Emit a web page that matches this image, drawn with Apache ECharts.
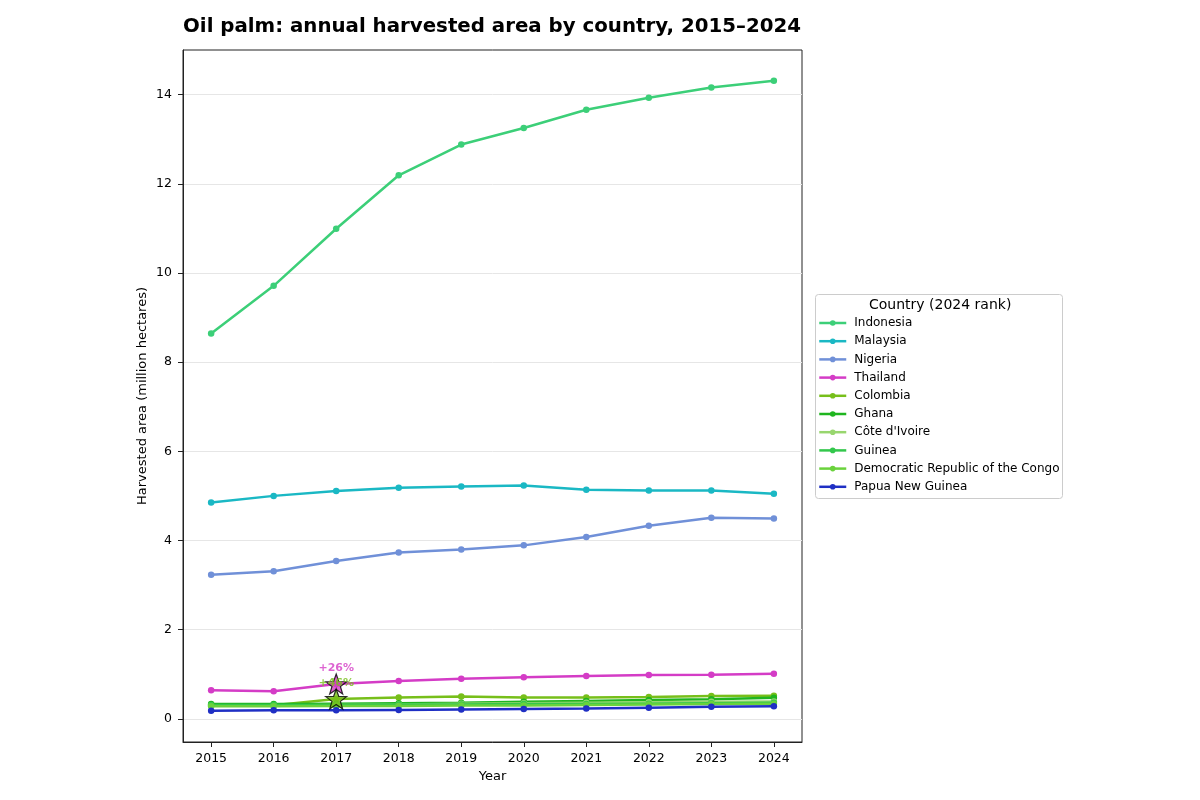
<!DOCTYPE html>
<html>
<head>
<meta charset="utf-8">
<script src="https://cdn.jsdelivr.net/npm/echarts@6/dist/echarts.min.js"></script>
<style>html,body{margin:0;padding:0;background:#fff}#chart{width:1200px;height:800px}</style>
</head>
<body>
<div id="chart"></div>
<script>
const years = [2015, 2016, 2017, 2018, 2019, 2020, 2021, 2022, 2023, 2024];
const countries = ['Indonesia', 'Malaysia', 'Nigeria', 'Thailand', 'Colombia', 'Ghana', "Côte d'Ivoire", 'Guinea', 'Democratic Republic of the Congo', 'Papua New Guinea'];
const colors = ['#3ccf78', '#1ab8c4', '#7090d8', '#d43cc6', '#77bf1a', '#1fb51f', '#98d66e', '#33c74c', '#6ad23c', '#1f2fc4'];
const indonesia = [8.64, 9.71, 10.99, 12.19, 12.88, 13.25, 13.66, 13.93, 14.16, 14.31];
const malaysia = [4.85, 5.00, 5.11, 5.18, 5.21, 5.23, 5.14, 5.12, 5.12, 5.05];
const nigeria = [3.23, 3.31, 3.54, 3.73, 3.80, 3.89, 4.08, 4.33, 4.51, 4.49];
const thailand = [0.64, 0.62, 0.78, 0.85, 0.90, 0.93, 0.96, 0.98, 0.99, 1.01];
const colombia = [0.31, 0.305, 0.445, 0.48, 0.50, 0.48, 0.48, 0.49, 0.51, 0.52];
const ghana = [0.33, 0.33, 0.34, 0.35, 0.36, 0.38, 0.40, 0.42, 0.44, 0.47];
const coteDIvoire = [0.30, 0.30, 0.31, 0.32, 0.34, 0.35, 0.36, 0.37, 0.38, 0.39];
const guinea = [0.31, 0.31, 0.31, 0.32, 0.32, 0.33, 0.33, 0.34, 0.35, 0.36];
const drc = [0.28, 0.28, 0.29, 0.29, 0.30, 0.30, 0.31, 0.32, 0.33, 0.34];
const png = [0.18, 0.19, 0.19, 0.20, 0.21, 0.22, 0.23, 0.25, 0.27, 0.28];
const seriesValues = [indonesia, malaysia, nigeria, thailand, colombia, ghana, coteDIvoire, guinea, drc, png];
const yTicks = [0, 2, 4, 6, 8, 10, 12, 14];
const highlights = [
  { country: 'Thailand', year: 2017, label: '+26%' },
  { country: 'Colombia', year: 2017, label: '+46%' }
];

const STAR = 'path://M0,-10 L2.35,-3.24 L9.51,-3.09 L3.80,1.24 L5.88,8.09 L0,4 L-5.88,8.09 L-3.80,1.24 L-9.51,-3.09 L-2.35,-3.24 Z';
const FONT = 'DejaVu Sans';

const series = countries.map((name, i) => ({
  name: name,
  type: 'line',
  data: years.map((y, j) => [y, seriesValues[i][j]]),
  symbol: 'circle',
  symbolSize: 6.5,
  lineStyle: { width: 2.5, color: colors[i] },
  itemStyle: { color: colors[i] },
  emphasis: { disabled: true },
  z: 2
}));

highlights.forEach(h => {
  const i = countries.indexOf(h.country);
  const j = years.indexOf(h.year);
  series.push({
    type: 'scatter',
    name: h.country + ' highlight',
    data: [[h.year, seriesValues[i][j]]],
    symbol: STAR,
    symbolSize: [21, 20],
    itemStyle: { color: colors[i], borderColor: '#000', borderWidth: 1.2 },
    label: {
      show: true, position: 'top', distance: 0,
      formatter: h.label, color: colors[i],
      fontFamily: FONT, fontWeight: 'bold', fontSize: 11
    },
    emphasis: { disabled: true },
    z: 5
  });
});

const chart = echarts.init(document.getElementById('chart'), null, { renderer: 'canvas' });
chart.setOption({
  animation: false,
  backgroundColor: '#fff',
  textStyle: { fontFamily: FONT },
  title: {
    text: 'Oil palm: annual harvested area by country, 2015–2024',
    left: 487, top: 12, textAlign: 'center',
    textStyle: { fontFamily: FONT, fontWeight: 'bold', fontSize: 19.8, color: '#000' }
  },
  grid: {
    left: 183, right: 398, top: 50, bottom: 58,
    show: true, borderColor: '#222', borderWidth: 1, backgroundColor: 'transparent'
  },
  xAxis: {
    type: 'value', min: 2014.55, max: 2024.45,
    name: 'Year', nameLocation: 'middle', nameGap: 28, nameMoveOverlap: false,
    nameTextStyle: { fontFamily: FONT, fontSize: 13, color: '#000' },
    axisLine: { show: true, onZero: false, lineStyle: { color: '#222' } },
    axisTick: { show: true, length: 5, lineStyle: { color: '#222' }, customValues: years },
    axisLabel: { fontFamily: FONT, fontSize: 12.5, color: '#000', margin: 10, customValues: years, formatter: v => String(v) },
    splitLine: { show: false }
  },
  yAxis: {
    type: 'value', min: -0.52, max: 15.0,
    name: 'Harvested area (million hectares)', nameLocation: 'middle', nameGap: 34, nameMoveOverlap: false,
    nameTextStyle: { fontFamily: FONT, fontSize: 13, color: '#000' },
    axisLine: { show: true, onZero: false, lineStyle: { color: '#222' } },
    axisTick: { show: true, length: 5, lineStyle: { color: '#222' }, customValues: yTicks },
    axisLabel: { fontFamily: FONT, fontSize: 12.5, color: '#000', margin: 11, customValues: yTicks },
    splitLine: { show: true, lineStyle: { color: '#e6e6e6', width: 1 } }
  },
  legend: {
    data: countries,
    orient: 'vertical',
    left: 818, top: 317,
    padding: 0,
    itemWidth: 27, itemHeight: 7, itemGap: 6.2,
    lineStyle: { width: 2.5 },
    textStyle: { fontFamily: FONT, fontSize: 12, color: '#000', padding: [0, 0, 0, 3] },
    selectedMode: false
  },
  graphic: [
    {
      type: 'rect', left: 815, top: 294, z: -1,
      shape: { width: 247, height: 204, r: 3 },
      style: { fill: '#fff', stroke: '#cccccc', lineWidth: 1 }
    },
    {
      type: 'text', left: 869, top: 298, z: 10,
      style: { text: 'Country (2024 rank)', font: '14px "DejaVu Sans"', fill: '#000' }
    }
  ],
  series: series
});
</script>
</body>
</html>
